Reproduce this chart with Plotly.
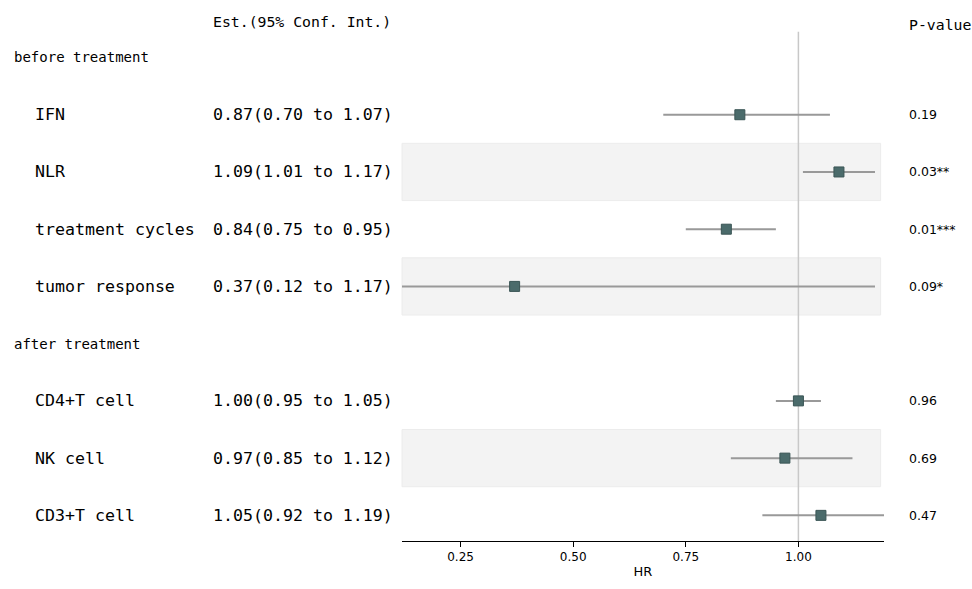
import plotly.graph_objects as go

labels = ["IFN", "NLR", "treatment cycles", "tumor response", "CD4+T cell", "NK cell", "CD3+T cell"]
groups = ["before treatment", "before treatment", "before treatment", "before treatment",
          "after treatment", "after treatment", "after treatment"]
est = [0.87, 1.09, 0.84, 0.37, 1.00, 0.97, 1.05]
lower = [0.70, 1.01, 0.75, 0.12, 0.95, 0.85, 0.92]
upper = [1.07, 1.17, 0.95, 1.17, 1.05, 1.12, 1.19]
pvals = ["0.19", "0.03**", "0.01***", "0.09*", "0.96", "0.69", "0.47"]
shaded = [False, True, False, True, False, True, False]
tick_vals = [0.25, 0.50, 0.75, 1.00]
tick_text = ["0.25", "0.50", "0.75", "1.00"]

# row layout: group headers followed by their items
rows_y = []
header_y = {}
r = 0
prev = None
for g in groups:
    if g != prev:
        header_y[g] = r
        r += 1
        prev = g
    rows_y.append(r)
    r += 1

FONT = "DejaVu Sans Mono"
PL, PR, PT, PB = 402, 884, 20, 548
W, H = 972, 589

fig = go.Figure()

# shaded bands
for y, s in zip(rows_y, shaded):
    if s:
        fig.add_shape(type="rect", xref="paper", yref="y", x0=0, x1=0.993,
                      y0=y - 0.5, y1=y + 0.5, fillcolor="#f3f3f3",
                      line=dict(color="#ececec", width=1), layer="below")

# reference line at 1
fig.add_shape(type="line", xref="x", yref="y", x0=1, x1=1, y0=-0.45, y1=8.448,
              line=dict(color="#c8c8c8", width=1.5), layer="below")

# CI lines
for y, lo, hi in zip(rows_y, lower, upper):
    fig.add_trace(go.Scatter(x=[lo, hi], y=[y, y], mode="lines",
                             line=dict(color="#999999", width=2),
                             hoverinfo="skip", showlegend=False, cliponaxis=True))

fig.add_trace(go.Scatter(x=est, y=rows_y, mode="markers",
                         marker=dict(symbol="square", size=10, color="#4b6b6b",
                                     line=dict(color="#3a5555", width=1)),
                         showlegend=False))

ann = []
ann.append(dict(x=0, xref="paper", y=-0.63, yref="y", xanchor="right", yanchor="middle",
                xshift=-9, text="Est.(95% Conf. Int.)", showarrow=False,
                font=dict(family=FONT, size=14.8, color="black")))
ann.append(dict(x=1, xref="paper", y=-0.58, yref="y", xanchor="left", yanchor="middle",
                xshift=23, text="P-value", showarrow=False,
                font=dict(family=FONT, size=14.8, color="black")))
for g, y in header_y.items():
    ann.append(dict(x=0, xref="paper", y=y, yref="y", xanchor="left", yanchor="middle",
                    xshift=12 - PL, text=g, showarrow=False,
                    font=dict(family=FONT, size=14, color="black")))
for lab, y, e, lo, hi, p in zip(labels, rows_y, est, lower, upper, pvals):
    ann.append(dict(x=0, xref="paper", y=y, yref="y", xanchor="left", yanchor="middle",
                    xshift=33 - PL, text=lab, showarrow=False,
                    font=dict(family=FONT, size=16.6, color="black")))
    ann.append(dict(x=0, xref="paper", y=y, yref="y", xanchor="right", yanchor="middle",
                    xshift=-7, text=f"{e:.2f}({lo:.2f} to {hi:.2f})", showarrow=False,
                    font=dict(family=FONT, size=16.6, color="black")))
    ann.append(dict(x=1, xref="paper", y=y, yref="y", xanchor="left", yanchor="middle",
                    xshift=23, text=p, showarrow=False,
                    font=dict(family="DejaVu Sans", size=12.5, color="black")))

fig.update_layout(
    width=W, height=H,
    margin=dict(l=PL, r=W - PR, t=PT, b=H - PB, pad=0),
    plot_bgcolor="white", paper_bgcolor="white",
    annotations=ann,
    xaxis=dict(range=[0.12, 1.19], tickvals=tick_vals, ticktext=tick_text,
               showgrid=False, zeroline=False, showline=True, linecolor="black",
               linewidth=1, ticks="outside", ticklen=5, tickcolor="black",
               tickfont=dict(family="DejaVu Sans", size=12, color="black"),
               title=dict(text="HR", font=dict(family="DejaVu Sans", size=13, color="black"),
                          standoff=3)),
    yaxis=dict(range=[8.448, -0.655], visible=False, showgrid=False, zeroline=False),
)

fig.write_html("out.html",
               config={"displayModeBar": False},
               post_script=("document.documentElement.style.overflow='hidden';"
                            "document.documentElement.style.height='589px';"
                            "document.body.style.margin='0';"
                            "document.body.style.height='589px';"
                            "document.body.style.overflow='hidden';"))
